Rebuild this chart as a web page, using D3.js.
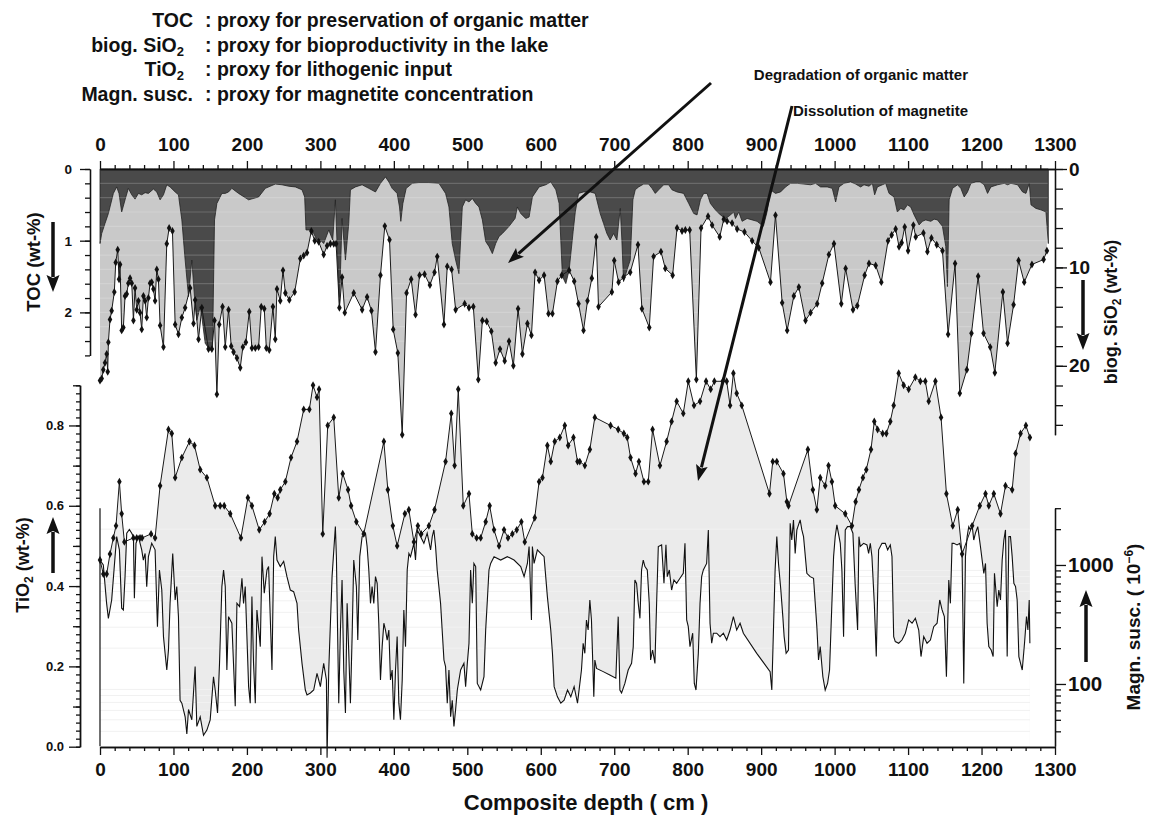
<!DOCTYPE html>
<html>
<head>
<meta charset="utf-8">
<script src="https://cdn.jsdelivr.net/npm/d3@7"></script>
<style>
  body { margin: 0; background: #fff; }
  svg { display: block; }
</style>
</head>
<body>
<svg width="1150" height="817"></svg>
<script>
// ---- data (depth in cm, value) ----
const tocSeries = [
  [0,1.04],[2.3,0.90],[6.8,0.76],[11.4,0.62],[18.2,0.34],[22.7,0.25],[25.9,0.34],[29.5,0.60],[34.1,0.43],[38.6,0.27],
  [43.2,0.36],[47.7,0.42],[52.3,0.34],[56.8,0.36],[61.4,0.33],[65.9,0.34],[72.7,0.28],[77.3,0.32],[81.8,0.43],[86.4,0.36],
  [90.9,0.22],[95.4,0.25],[102.3,0.32],[106.8,0.36],[111.4,0.71],[115.9,1.27],[120.5,1.78],[125,1.27],[128.6,1.78],[131.8,2.11],
  [136.4,1.92],[138.6,2.06],[143.2,2.43],[150,2.53],[153.2,2.48],[155.9,0.71],[159.1,0.48],[165.9,0.34],[170.5,0.34],[175,0.32],
  [179.5,0.27],[188.6,0.34],[202.3,0.43],[215.9,0.39],[225,0.27],[238.6,0.21],[247.7,0.22],[256.8,0.24],[265.9,0.25],[275,0.29],
  [278.6,0.39],[280.4,0.85],[286.4,0.85],[290.9,0.90],[295.4,0.99],[300,0.99],[304.5,1.04],[311.4,0.85],[316.8,0.99],[320.4,0.43],
  [322.7,1.04],[325.9,1.92],[329.5,0.69],[334.1,1.27],[338.6,0.76],[340.9,0.29],[347.7,0.25],[356.8,0.22],[365.9,0.27],[375,0.32],
  [381.8,0.20],[388.6,0.11],[393.2,0.18],[397.7,0.27],[404.5,0.34],[407.7,0.53],[409.5,0.73],[412.3,0.48],[416.8,0.27],[425,0.20],
  [434.1,0.19],[447.7,0.19],[461.4,0.20],[470.4,0.34],[475,0.53],[479.5,1.04],[484.1,1.27],[488.6,1.46],[493.2,0.53],[497.7,0.43],
  [502.3,0.46],[506.8,0.41],[511.4,0.48],[515.9,0.53],[520.5,0.71],[525,1.01],[529.5,1.08],[534.1,1.18],[538.6,1.04],[543.2,0.94],
  [547.7,0.90],[556.8,0.80],[565,0.69],[568.2,0.53],[572.7,0.62],[579.5,0.69],[584.1,0.67],[588.6,0.39],[597.7,0.25],[606.8,0.22],
  [613.6,0.18],[620.5,0.29],[625,0.48],[629.5,1.50],[634.1,1.60],[638.6,1.41],[644.1,0.87],[647,0.60],[651.4,0.34],[658.2,0.32],
  [667.3,0.32],[674.1,0.34],[680.9,0.62],[685.5,0.76],[690,0.90],[694.5,0.99],[699.1,0.90],[703.6,0.99],[708.2,0.55],[710.4,0.99],
  [712.7,1.57],[717.3,1.41],[721.8,1.27],[725.4,0.43],[728.6,0.29],[733.2,0.25],[740,0.21],[746.8,0.21],[751.4,0.27],[755.9,0.34],
  [760.5,0.29],[767.3,0.22],[774.1,0.22],[778.6,0.29],[785.5,0.32],[794.5,0.34],[801.4,0.48],[808.2,0.62],[812.7,0.64],[817.3,0.43],
  [821.8,0.34],[826.4,0.34],[830.9,0.48],[837.7,0.57],[844.5,0.64],[851.4,0.69],[855.9,0.66],[862.7,0.60],[865,0.69],[869.5,0.60],
  [874.1,0.73],[880.9,0.69],[887.7,0.71],[894.5,0.73],[898.2,0.76],[903,0.80],[908,0.60],[912.7,0.29],[919.5,0.34],[926.4,0.32],
  [933.2,0.25],[940,0.20],[949.1,0.20],[958.2,0.21],[967.3,0.22],[974.1,0.20],[980.9,0.25],[990,0.25],[996.8,0.27],[1001.4,0.46],
  [1005.9,0.25],[1012.7,0.20],[1021.8,0.18],[1028.6,0.21],[1035.4,0.25],[1040,0.22],[1046.8,0.24],[1051.4,0.20],[1054.5,0.36],[1058.2,0.25],
  [1065,0.22],[1069.5,0.20],[1074.1,0.34],[1080.9,0.39],[1085.4,0.60],[1090,0.55],[1094.5,0.57],[1099.1,0.50],[1103.6,0.53],[1108.2,0.64],
  [1115,0.78],[1119.5,0.73],[1124.1,0.71],[1130.9,0.73],[1135.5,0.70],[1140,0.71],[1146.8,0.80],[1151.3,1.08],[1153.6,1.64],[1155.9,0.43],
  [1160.5,0.27],[1167.3,0.22],[1171.8,0.27],[1176.4,0.39],[1180.9,0.32],[1185.5,0.20],[1192.3,0.18],[1198.1,0.18],[1203.6,0.22],[1208.2,0.34],
  [1212.7,0.25],[1221.8,0.22],[1230.9,0.20],[1235.5,0.22],[1240,0.20],[1249.1,0.22],[1255.9,0.32],[1260.5,0.34],[1265,0.20],[1267.3,0.50],
  [1274.1,0.55],[1280.9,0.57],[1287.7,0.60],[1290.9,1.04]
];

const sio2Series = [
  [0,21.5],[2.3,21.3],[4.5,20.4],[6.8,19.7],[9.1,18.8],[10.5,20.6],[11.4,17.6],[13.6,15.3],[15.9,14.4],[19.5,12.5],
  [21.4,9.5],[24.1,8.2],[25.9,11.2],[27.3,9.7],[29.5,16.4],[31.8,16.1],[34.1,12.9],[36.4,12.7],[38.6,11.6],[40.9,11.1],
  [43.2,11.6],[45.5,15.4],[47.7,12.1],[50,14.3],[52.3,13.4],[54.5,14.6],[56.8,16.3],[59.1,12.9],[61.4,13.4],[63.6,15.1],
  [65.9,13.1],[68.2,11.6],[70.4,11.5],[72.7,12.2],[75,13.4],[77.3,10.2],[79.5,11.2],[81.8,15.9],[86.4,18.1],[90.9,7.6],
  [94.1,6.0],[98.6,6.3],[102.3,15.8],[106.8,16.8],[111.4,15.1],[115.9,14.1],[122.7,12.1],[127.3,15.7],[129.5,13.3],[134.1,17.3],
  [138.6,14.1],[147.7,18.3],[152.3,18.3],[155.9,15.4],[159.1,22.9],[162.3,15.8],[166.8,14.0],[170.5,18.1],[175,14.3],[178.6,18.0],
  [181.8,18.6],[186.4,19.2],[190.9,20.2],[194.5,18.1],[198.6,17.6],[203.2,14.5],[206.8,18.2],[211.4,18.2],[215.9,18.1],[219.5,14.0],
  [223.6,14.2],[226.4,18.2],[230.4,18.4],[235.4,14.0],[238.6,17.3],[240.9,12.2],[245.4,13.4],[249.1,10.3],[252.3,12.6],[257.7,13.3],
  [265,12.5],[272.7,9.1],[277.3,8.8],[281.8,8.5],[287.7,6.3],[292.3,7.3],[297.7,7.4],[304.5,8.7],[309.1,7.8],[313.6,7.6],
  [318.2,7.6],[321.4,7.6],[325.9,14.1],[329.5,11.0],[333.2,14.6],[345.4,12.6],[356.8,14.3],[363.6,13.0],[369.5,14.4],[375,18.6],
  [381.8,10.8],[387.7,5.8],[394.1,7.2],[399.1,16.3],[405.4,18.7],[411.4,27.0],[417.3,12.6],[423.6,11.2],[429.5,14.8],[435,10.8],
  [441.8,10.7],[449.1,11.8],[455.4,10.5],[459.1,8.9],[468.2,15.8],[472.7,9.9],[478.6,10.2],[484.1,14.3],[496.4,13.7],[502.3,14.1],
  [508.2,14.0],[515,21.4],[520.5,15.4],[526.4,15.5],[532.7,16.5],[538.6,19.7],[544.5,18.3],[550.9,19.5],[556.8,17.5],[562.7,20.0],
  [569.1,14.2],[575,18.8],[581.8,15.7],[587.3,16.9],[592.3,10.5],[597.7,11.3],[604.5,10.8],[610.5,14.7],[615.9,14.7],[622.7,11.4],
  [628.6,10.8],[638.6,10.3],[645.5,11.4],[651.4,13.7],[658.2,16.4],[663.6,13.4],[669.5,11.1],[675.5,6.9],[678.6,14.0],[696.8,12.5],
  [700,9.3],[705.9,11.5],[712.7,11.0],[721.8,10.5],[732.3,7.7],[737.7,14.2],[747.7,16.1],[753.6,8.9],[763.6,8.4],[769.5,10.1],
  [779.5,10.8],[785.5,6.0],[792.3,6.3],[796.8,6.2],[802.7,6.2],[811.8,21.4],[818.2,6.0],[827.7,4.8],[833.2,5.7],[843.6,6.9],
  [849.1,5.1],[853.6,5.3],[860.4,5.5],[867.3,6.1],[877.3,6.4],[887.7,7.3],[896.8,8.0],[912.7,11.5],[919.5,4.7],[928.6,13.6],
  [935.4,16.4],[944.5,12.9],[951.3,12.0],[960.4,15.4],[967.3,14.6],[976.3,13.7],[983.1,11.6],[992.2,8.7],[999.1,7.6],[1009.1,13.7],
  [1015,10.1],[1025,14.3],[1030.9,13.9],[1040.9,10.8],[1046.8,9.6],[1055.9,9.8],[1063.6,11.5],[1072.7,7.3],[1077.7,6.7],[1083.1,6.1],
  [1087.7,7.9],[1091.3,7.5],[1095.4,5.9],[1100,8.3],[1107.2,5.7],[1110.4,6.9],[1120.9,6.5],[1126.3,8.4],[1131.8,7.0],[1139,7.7],
  [1146.8,8.3],[1154.5,16.8],[1164,9.6],[1170.4,22.8],[1180,20.4],[1186.3,16.7],[1195.4,10.9],[1202.7,16.7],[1211.8,18.1],[1218.1,20.7],
  [1229,12.5],[1235.4,17.7],[1243.6,13.8],[1250.4,9.3],[1258.1,11.5],[1268.6,9.7],[1284.5,9.2],[1289,8.3]
];

const tio2Series = [
  [0,0.465],[4.5,0.43],[9.1,0.43],[13.6,0.48],[18.2,0.52],[21.8,0.55],[26.4,0.66],[29.5,0.58],[33.2,0.51],[45.5,0.52],
  [50,0.52],[54.5,0.52],[57.3,0.52],[69.5,0.53],[75,0.52],[81.8,0.65],[93.2,0.79],[97.7,0.78],[102.3,0.67],[111.4,0.72],
  [121.8,0.76],[128.6,0.75],[136.4,0.69],[145.5,0.67],[156.8,0.60],[163.6,0.60],[169.1,0.60],[177.3,0.58],[191.8,0.52],[201.3,0.62],
  [206.8,0.60],[216.8,0.54],[224.1,0.56],[230.9,0.58],[237.3,0.63],[241.8,0.62],[245.4,0.64],[252.3,0.66],[260,0.72],[268.2,0.76],
  [277.3,0.84],[285,0.84],[290,0.90],[295.4,0.87],[298.2,0.89],[303.2,0.53],[310,0.80],[318.2,0.82],[325,0.62],[330.4,0.68],
  [337.7,0.64],[341.8,0.60],[349,0.56],[359,0.53],[386.4,0.76],[391.8,0.64],[398.6,0.55],[404.5,0.50],[415,0.58],[420.4,0.59],
  [427.3,0.51],[432.7,0.55],[437.3,0.53],[447.7,0.55],[455.4,0.59],[470.4,0.71],[478.2,0.83],[482.7,0.70],[487.7,0.89],[494.5,0.60],
  [502.3,0.63],[506.8,0.53],[512.7,0.52],[518.2,0.52],[525,0.56],[530.4,0.60],[536.4,0.54],[543.2,0.50],[550,0.54],[555.4,0.52],
  [561.3,0.53],[567.3,0.54],[573.6,0.56],[578.2,0.51],[591.8,0.57],[597.7,0.66],[602.3,0.67],[609,0.75],[613.6,0.71],[619,0.76],
  [625.9,0.77],[632.7,0.80],[637.3,0.75],[644.5,0.77],[650,0.71],[653.1,0.71],[660,0.70],[666.8,0.74],[673.6,0.82],[695,0.80],
  [705.4,0.79],[713.1,0.78],[717.7,0.77],[722.2,0.72],[729,0.68],[733.6,0.71],[740.4,0.66],[746.3,0.66],[752.2,0.79],[762.2,0.70],
  [771.3,0.76],[778.1,0.81],[785,0.86],[794,0.83],[800.8,0.91],[808.6,0.85],[816.8,0.86],[825,0.91],[831.3,0.89],[836.3,0.91],
  [847.7,0.91],[853.1,0.91],[857.7,0.85],[862.2,0.93],[866.7,0.88],[873.6,0.85],[911.3,0.63],[915.8,0.71],[921.3,0.71],[930.4,0.68],
  [935,0.61],[937.2,0.60],[963.6,0.74],[970.4,0.64],[975.8,0.59],[980.4,0.67],[987.2,0.65],[991.7,0.70],[996.3,0.66],[1000.8,0.60],
  [1014.5,0.58],[1023.6,0.55],[1028.6,0.61],[1033.1,0.64],[1038.5,0.67],[1043.1,0.69],[1049.5,0.74],[1054,0.81],[1058.5,0.79],[1065.4,0.78],
  [1070.4,0.78],[1075.8,0.81],[1080.4,0.85],[1087.2,0.93],[1094,0.90],[1100.8,0.89],[1109.9,0.92],[1116.7,0.91],[1123.5,0.91],[1128.1,0.86],
  [1137.2,0.91],[1144.9,0.82],[1152.2,0.63],[1160.8,0.55],[1167.6,0.59],[1173.5,0.48],[1187.2,0.55],[1197.6,0.60],[1205.4,0.63],[1209.9,0.60],
  [1216.7,0.63],[1225.8,0.58],[1232.6,0.65],[1241.7,0.64],[1246.3,0.73],[1253.1,0.78],[1260.4,0.80],[1265.8,0.77]
];

const magSusSeries = [
  [0,1100],[4.5,1000],[9,476],[11.4,356],[15.9,508],[20.5,1175],[22.7,1730],[26.4,1340],[29.5,433],[31.8,419],
  [34.1,798],[36.4,1850],[40,1990],[43.2,1850],[45.5,1730],[46.8,525],[49,1520],[52.3,1730],[56.8,1340],[59,1100],
  [61.4,1250],[63.6,658],[65.9,1175],[70.4,1520],[75,1340],[78.2,303],[80.9,908],[84.1,616],[86.4,250],[88.6,181],
  [90.9,131],[93.2,193],[95.4,476],[99,1250],[102.3,508],[104.5,658],[106.8,368],[109,73],[111.4,69],[115.9,53],
  [118.2,38],[120.5,61],[125,50],[129.5,140],[131.8,44],[136.4,53],[140.9,37],[145.5,41],[150,50],[154.5,115],
  [156.8,89],[160,57],[162.7,149],[165.9,658],[168.2,908],[170.5,658],[172.7,131],[175,368],[179.5,324],[184.1,65],
  [186.4,476],[190,447],[193.2,773],[195.4,476],[197.7,658],[202.3,95],[204.5,69],[206.8,542],[209,149],[211.4,69],
  [213.6,419],[218.2,206],[220.5,1175],[223.6,578],[227.3,908],[229.5,970],[234.1,131],[236.4,1175],[238.6,1730],[240.9,1100],
  [245.4,970],[250,1070],[254.5,798],[259.1,616],[263.6,597],[268.2,476],[270.4,284],[275,149],[279.5,89],[281.8,81],
  [286.4,84],[290.9,89],[295.4,123],[300,95],[304.5,149],[308.2,108],[309.1,24],[311.4,131],[315.9,798],[320.4,2100],
  [321.8,1175],[325,69],[327.3,284],[329.5,748],[331.8,131],[334.1,57],[336.4,476],[340.9,69],[343.2,250],[345.4,1100],
  [349,658],[350.9,234],[353.6,1175],[356.8,1730],[361.4,1850],[363.6,1430],[365.9,908],[368.2,476],[370.4,658],[372.7,476],
  [375,798],[377.3,701],[379.5,324],[381.8,108],[384.1,206],[386.4,324],[388.6,284],[390.9,234],[393.2,284],[395.4,108],
  [397.7,131],[400,50],[402.3,131],[404.5,250],[406.8,69],[409,50],[411.4,108],[413.6,419],[415.9,206],[418.2,908],
  [420.5,1250],[422.7,1175],[427.3,1520],[429.5,1100],[431.8,1970],[436.4,1730],[440.9,1520],[445.4,1850],[450,1340],[452.3,1730],
  [454.5,1970],[456.8,1430],[459,908],[463.6,476],[468.2,159],[470.4,140],[472.7,69],[475,131],[477.3,53],[479.5,73],
  [481.8,44],[484.1,61],[486.4,89],[490.9,131],[495.4,149],[497.7,95],[500,149],[502.3,220],[504.5,908],[506.8,476],
  [509,1030],[511.4,970],[513.6,101],[518.2,89],[522.7,115],[525,284],[527.3,508],[529.5,908],[531.8,1030],[536.4,1175],
  [545.4,1100],[554.5,1175],[563.6,1100],[572.7,970],[577.3,798],[581.8,1030],[584.1,1430],[587.3,345],[588.6,1430],[590.9,1030],
  [595.4,1340],[600,1250],[604.5,1175],[609,542],[613.6,284],[615.9,181],[618.2,95],[622.7,78],[627.3,69],[631.8,73],
  [636.4,89],[640.9,78],[645.4,95],[650,69],[655.4,131],[657.7,220],[660,181],[662.2,345],[664.5,284],[666.8,508],
  [669,345],[672.2,78],[673.6,159],[675.9,135],[685,127],[694,119],[702.2,112],[705.4,368],[707.7,89],[710,84],
  [714.5,101],[719,131],[723.6,149],[725.9,206],[728.1,748],[730.4,701],[732.7,476],[735,356],[737.2,908],[739.5,1100],
  [741.8,970],[745,908],[747.7,476],[749.5,159],[752.2,193],[755.4,149],[757.7,476],[760,1430],[764.5,1475],[767.7,701],
  [770.4,1475],[772.2,798],[775,908],[778.1,616],[781.3,748],[784.9,701],[789.5,773],[794,851],[796.3,1520],[798.6,345],
  [800.8,303],[803.1,206],[806.8,267],[809,101],[811.3,89],[814.5,181],[816.8,476],[819,798],[821.3,908],[825.8,1030],
  [828.1,1970],[830.4,324],[832.7,220],[835,267],[839.5,267],[844,250],[848.6,267],[853.1,234],[857.7,284],[862.2,368],
  [866.7,284],[871.3,324],[875.8,267],[894,181],[912.2,127],[914.5,89],[919,908],[921.3,1730],[923.6,1030],[926.8,616],
  [929.5,368],[931.3,250],[934,181],[937.2,193],[939.5,2240],[941.7,1620],[944,2390],[946.3,1250],[948.6,1970],[953.1,2390],
  [955.4,1970],[957.7,1730],[962.2,851],[966.7,798],[971.3,773],[975.8,303],[978.1,159],[980.4,206],[984,115],[987.2,89],
  [990.4,101],[993.1,131],[996.3,476],[998.6,1175],[1000.8,1730],[1003.1,2170],[1007.7,1520],[1009.9,908],[1012.2,250],[1014.5,1970],
  [1017.6,2100],[1021.3,2100],[1024.9,1850],[1028.1,658],[1031.3,284],[1033.1,1730],[1034.9,1430],[1039.5,1520],[1044,1475],[1046.3,1250],
  [1048.6,1520],[1050.8,1175],[1054,476],[1056.7,170],[1059.9,1340],[1064.5,1520],[1069,1520],[1072.2,1340],[1075.8,1475],[1078.1,1175],
  [1080.4,250],[1082.6,227],[1087.2,220],[1091.7,234],[1096.3,267],[1100.8,345],[1105.4,324],[1109.9,356],[1114.5,284],[1117.6,170],
  [1121.3,250],[1125.8,220],[1130.4,234],[1134.9,303],[1139.5,324],[1143.1,508],[1146.3,419],[1149.4,368],[1152.2,115],[1155.4,748],
  [1157.6,476],[1159.9,1520],[1162.2,1520],[1166.7,1475],[1170.4,1520],[1173.5,1250],[1175.8,101],[1178.1,1175],[1180.4,1730],[1182.6,2100],
  [1184.9,1970],[1187.2,2170],[1189.4,1620],[1191.7,1850],[1194.9,2100],[1198.5,1430],[1203.1,851],[1205.4,1030],[1207.6,324],[1209.9,206],
  [1213.1,193],[1215.8,170],[1217.6,851],[1221.3,447],[1223.5,616],[1225.8,508],[1228.1,1100],[1230.4,1620],[1232.6,1970],[1234.9,170],
  [1237.2,1730],[1239.4,1730],[1241.7,1175],[1244,701],[1246.3,658],[1248.5,508],[1250.8,170],[1253.1,149],[1255.4,131],[1258.5,220],
  [1261.2,368],[1263.1,284],[1264.9,508],[1265.8,220]
];

// tick labels
const depthTicks = [0,100,200,300,400,500,600,700,800,900,1000,1100,1200,1300];
const tocTicks = [0,1,2];
const sio2Ticks = [0,10,20];
const tio2Ticks = [0.0,0.2,0.4,0.6,0.8];
const magTicks = [100,1000];

const font = '"Liberation Sans", Arial, Helvetica, sans-serif';
const svg = d3.select('svg');

// scales
const x = d3.scaleLinear().domain([0,1300]).range([100,1055]);
const yToc = d3.scaleLinear().domain([0,2.6]).range([169,355.4]);
const ySi = d3.scaleLinear().domain([0,27]).range([169,434.7]);
const yTi = d3.scaleLinear().domain([0,0.9]).range([746.7,385.3]);
const yMs = d3.scaleLog().domain([30,3000]).range([746.2,508.2]);

// ---------- upper panel ----------
svg.append('path').datum(sio2Series)
  .attr('d', d3.area().x(d => x(d[0])).y0(ySi(0)).y1(d => ySi(d[1])))
  .attr('fill', '#c9c9c9');

svg.append('path').datum(tocSeries)
  .attr('d', d3.area().x(d => x(d[0])).y0(yToc(0)).y1(d => yToc(d[1])))
  .attr('fill', '#4a4a4a')
  .attr('stroke', '#222').attr('stroke-width', 0.8);

// faint scan streaks
svg.append('g').selectAll('line')
  .data(d3.range(0.2, 2.5, 0.2))
  .join('line')
  .attr('x1', x(0)).attr('x2', x(1290))
  .attr('y1', d => yToc(d)).attr('y2', d => yToc(d))
  .attr('stroke', '#fff').attr('stroke-opacity', 0.18).attr('stroke-width', 1.2);

const lineSi = d3.line().x(d => x(d[0])).y(d => ySi(d[1]));
svg.append('path').datum(sio2Series)
  .attr('d', lineSi).attr('fill', 'none')
  .attr('stroke', '#1a1a1a').attr('stroke-width', 1);

const diamond = d3.symbol().type(d3.symbolDiamond).size(18);
svg.append('g').selectAll('path')
  .data(sio2Series)
  .join('path')
  .attr('d', diamond)
  .attr('transform', d => `translate(${x(d[0])},${ySi(d[1])})`)
  .attr('fill', '#111');

// ---------- lower panel ----------
svg.append('path').datum(tio2Series)
  .attr('d', d3.area().x(d => x(d[0])).y0(yTi(0)).y1(d => yTi(d[1])))
  .attr('fill', '#ebebeb');

svg.append('path').datum(magSusSeries)
  .attr('d', d3.area().x(d => x(d[0])).y0(yMs(30)).y1(d => yMs(d[1])))
  .attr('fill', '#fff');

// faint log grid in the white part
const msGrid = [40,50,60,70,80,90,200,300,400,500,600,700,800,900,2000];
svg.append('g').selectAll('line')
  .data(msGrid)
  .join('line')
  .attr('x1', x(0)).attr('x2', x(1266))
  .attr('y1', d => yMs(d)).attr('y2', d => yMs(d))
  .attr('stroke', '#f1f1f1').attr('stroke-width', 1);

svg.append('path').datum(magSusSeries)
  .attr('d', d3.line().x(d => x(d[0])).y(d => yMs(d[1])))
  .attr('fill', 'none').attr('stroke', '#111').attr('stroke-width', 1.1);

svg.append('line')
  .attr('x1', x(0)).attr('x2', x(0))
  .attr('y1', yMs(3000)).attr('y2', yMs(30))
  .attr('stroke', '#111').attr('stroke-width', 1.2);

svg.append('path').datum(tio2Series)
  .attr('d', d3.line().x(d => x(d[0])).y(d => yTi(d[1])))
  .attr('fill', 'none').attr('stroke', '#1a1a1a').attr('stroke-width', 1);

svg.append('g').selectAll('path')
  .data(tio2Series)
  .join('path')
  .attr('d', diamond)
  .attr('transform', d => `translate(${x(d[0])},${yTi(d[1])})`)
  .attr('fill', '#111');

// ---------- axes ----------
function styleAxis(g, size) {
  g.selectAll('path, line').attr('stroke', '#111').attr('stroke-width', 1.3);
  g.selectAll('text')
    .attr('font-family', font).attr('font-weight', 'bold')
    .attr('font-size', size).attr('fill', '#111');
}

const depthMinor = d3.range(0, 1301, 20).filter(v => v % 100 !== 0);

// top depth axis
svg.append('g').attr('transform', 'translate(0,169)')
  .call(d3.axisTop(x).tickValues(depthMinor).tickSize(4).tickFormat('').tickSizeOuter(0))
  .call(styleAxis, 18);
svg.append('g').attr('transform', 'translate(0,169)')
  .call(d3.axisTop(x).tickValues(depthTicks).tickSize(8).tickPadding(10).tickFormat(d3.format('d')).tickSizeOuter(0))
  .call(styleAxis, 19);

// bottom depth axis
svg.append('g').attr('transform', 'translate(0,747)')
  .call(d3.axisBottom(x).tickValues(depthMinor).tickSize(4).tickFormat('').tickSizeOuter(0))
  .call(styleAxis, 18);
svg.append('g').attr('transform', 'translate(0,747)')
  .call(d3.axisBottom(x).tickValues(depthTicks).tickSize(8).tickPadding(8).tickFormat(d3.format('d')).tickSizeOuter(0))
  .call(styleAxis, 19);

// TOC axis
svg.append('g').attr('transform', 'translate(90,0)')
  .call(d3.axisLeft(yToc).tickValues(d3.range(0, 2.61, 0.2)).tickSize(5).tickFormat('').tickSizeOuter(0))
  .call(styleAxis, 13);
svg.append('g').attr('transform', 'translate(90,0)')
  .call(d3.axisLeft(yToc).tickValues(tocTicks).tickSize(10).tickPadding(8).tickFormat(d3.format('d')).tickSizeOuter(0))
  .call(styleAxis, 13.5);

// biog. SiO2 axis
svg.append('g').attr('transform', 'translate(1055,0)')
  .call(d3.axisRight(ySi).tickValues(d3.range(0, 27, 2)).tickSize(8).tickFormat('').tickSizeOuter(0))
  .call(styleAxis, 13);
svg.append('g').attr('transform', 'translate(1055,0)')
  .call(d3.axisRight(ySi).tickValues(sio2Ticks).tickSize(12).tickPadding(2).tickSizeOuter(0))
  .call(styleAxis, 19);

// TiO2 axis
svg.append('g').attr('transform', 'translate(80,0)')
  .call(d3.axisLeft(yTi).tickValues(d3.range(0, 0.905, 0.02)).tickSize(4).tickFormat('').tickSizeOuter(0))
  .call(styleAxis, 12);
svg.append('g').attr('transform', 'translate(80,0)')
  .call(d3.axisLeft(yTi).tickValues([0.1,0.3,0.5,0.7,0.9]).tickSize(7).tickFormat('').tickSizeOuter(0))
  .call(styleAxis, 12);
svg.append('g').attr('transform', 'translate(80,0)')
  .call(d3.axisLeft(yTi).tickValues(tio2Ticks).tickSize(11).tickPadding(5).tickFormat(d3.format('.1f')).tickSizeOuter(0))
  .call(styleAxis, 13);

// magnetic susceptibility axis
svg.append('g').attr('transform', 'translate(1055,0)')
  .call(d3.axisRight(yMs).tickValues([40,50,60,70,80,90,200,300,400,500,600,700,800,900,2000,3000]).tickSize(6).tickFormat('').tickSizeOuter(0))
  .call(styleAxis, 12);
svg.append('g').attr('transform', 'translate(1055,0)')
  .call(d3.axisRight(yMs).tickValues(magTicks).tickSize(11).tickPadding(2).tickFormat(d3.format('d')).tickSizeOuter(0))
  .call(styleAxis, 20.5);

// ---------- titles and labels ----------
function txt(xp, yp, size, anchor) {
  return svg.append('text')
    .attr('x', xp).attr('y', yp)
    .attr('font-family', font).attr('font-weight', 'bold')
    .attr('font-size', size).attr('fill', '#111')
    .attr('text-anchor', anchor || 'start');
}

svg.append('text')
  .attr('x', 586).attr('y', 810)
  .attr('text-anchor', 'middle')
  .attr('font-family', font).attr('font-weight', 'bold')
  .attr('font-size', 22).attr('fill', '#111')
  .text('Composite depth ( cm )');

// header legend
const hdr = [
  { k: 'TOC', v: ': proxy for preservation of organic matter' },
  { k: 'biog. SiO', v: ': proxy for bioproductivity in the lake', s: true },
  { k: 'TiO', v: ': proxy for lithogenic input', s: true },
  { k: 'Magn. susc.', v: ': proxy for magnetite concentration' }
];
hdr.forEach((h, i) => {
  const yy = 27 + i * 24.7;
  const t = txt(h.s ? 184 : 193, yy, 19.5, 'end').text(h.k);
  if (h.s) t.append('tspan').attr('dy', 4).attr('font-size', 13).text('2');
  txt(205, yy, 19.5).text(h.v);
});

// rotated axis titles
function vtext(cx, cy, size) {
  return svg.append('text')
    .attr('transform', `translate(${cx},${cy}) rotate(-90)`)
    .attr('text-anchor', 'middle')
    .attr('font-family', font).attr('font-weight', 'bold')
    .attr('font-size', size).attr('fill', '#111');
}
vtext(40, 262, 18.5).text('TOC (wt-%)');

const tiT = vtext(29, 565, 18);
tiT.append('tspan').text('TiO');
tiT.append('tspan').attr('dy', 4).attr('font-size', 12).text('2');
tiT.append('tspan').attr('dy', -4).text(' (wt-%)');

const siT = vtext(1117, 312, 18);
siT.append('tspan').text('biog. SiO');
siT.append('tspan').attr('dy', 4).attr('font-size', 12).text('2');
siT.append('tspan').attr('dy', -4).text(' (wt-%)');

const msT = vtext(1140, 627, 19);
msT.append('tspan').text('Magn. susc. ( 10');
msT.append('tspan').attr('dy', -7).attr('font-size', 12).text('\u22126');
msT.append('tspan').attr('dy', 7).text(')');

// arrows
function arrow(x1, y1, x2, y2, w, hl, hw) {
  const a = Math.atan2(y2 - y1, x2 - x1);
  const c = Math.cos(a), s = Math.sin(a);
  const bx = x2 - hl * c, by = y2 - hl * s;
  svg.append('line')
    .attr('x1', x1).attr('y1', y1).attr('x2', bx + c * 2).attr('y2', by + s * 2)
    .attr('stroke', '#111').attr('stroke-width', w);
  svg.append('path')
    .attr('d', `M${x2},${y2}L${bx - s * hw / 2},${by + c * hw / 2}L${bx + c * 3},${by + s * 3}L${bx + s * hw / 2},${by - c * hw / 2}Z`)
    .attr('fill', '#111');
}
arrow(53, 222, 53, 292, 3.5, 17, 13);
arrow(53, 573, 53, 517, 3.5, 17, 13);
arrow(1083, 280, 1083, 350, 3.5, 17, 13);
arrow(1086, 662, 1086, 590, 3.5, 17, 13);

// annotations
txt(968, 80, 15, 'end').text('Degradation of organic matter');
txt(968, 116, 15, 'end').text('Dissolution of magnetite');
arrow(711, 83, 508, 263, 3, 16, 12);
arrow(792, 106, 698, 481, 3, 16, 12);
</script>
</body>
</html>
